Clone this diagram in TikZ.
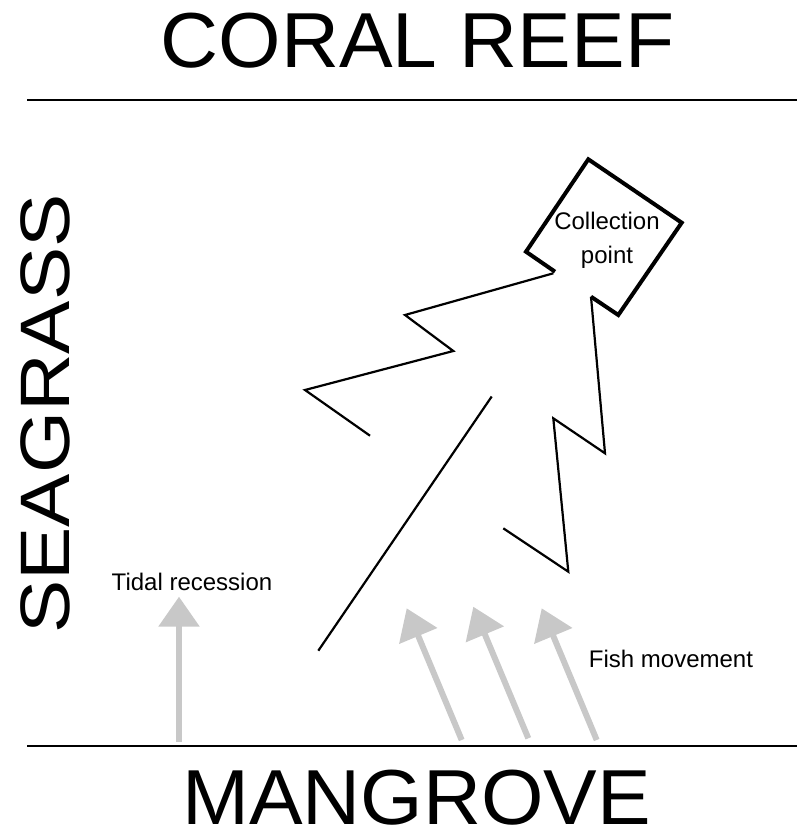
\documentclass[tikz,border=0pt]{standalone}
\usepackage{fontspec}
\usepackage{graphicx}
\setmainfont{Liberation Sans}
\usetikzlibrary{arrows.meta}
\definecolor{arrowgray}{RGB}{200,200,200}
\begin{document}
\begin{tikzpicture}[x=1pt,y=-1pt,
  bigtitle/.style={inner sep=0pt, anchor=base, font=\fontsize{78}{78}\selectfont},
  lbl/.style={inner sep=0pt, anchor=base, font=\fontsize{24}{24}\selectfont},
  thinline/.style={line width=2.2pt, line join=miter},
  boxline/.style={line width=4pt, line join=miter},
  rule/.style={line width=2.6pt},
  flow/.style={draw=arrowgray, line width=6pt, -{Triangle[length=30pt,width=40pt]}},
]
\useasboundingbox (0,0) rectangle (797,829);

% titles
\node[bigtitle] (coral) at (417.5,68) {\scalebox{1.03}[1]{CORAL REEF}};
\node[bigtitle] (mangrove) at (416.5,824) {\scalebox{1.03}[1]{MANGROVE}};
\node[inner sep=0pt, anchor=base, rotate=90, font=\fontsize{70}{70}\selectfont] (seagrass) at (69,414) {\scalebox{1.14}[1]{SEAGRASS}};

% rules
\coordinate (r1a) at (27,100); \coordinate (r1b) at (797,100);
\coordinate (r2a) at (27,746); \coordinate (r2b) at (797,746);
\draw[rule] (r1a) -- (r1b);
\draw[rule] (r2a) -- (r2b);

% collection point box
\coordinate (b1) at (555,271.7);
\coordinate (b2) at (526,251.7);
\coordinate (b3) at (588.3,159.3);
\coordinate (b4) at (681.7,222.7);
\coordinate (b5) at (618.3,315);
\coordinate (b6) at (591,296.7);
\draw[boxline] (b1) -- (b2) -- (b3) -- (b4) -- (b5) -- (b6);
\node[lbl] (cp1) at (607,229) {Collection};
\node[lbl] (cp2) at (607,263) {point};

% left zigzag
\coordinate (l1) at (553.3,273.3);
\coordinate (l2) at (405,315);
\coordinate (l3) at (453.3,351);
\coordinate (l4) at (305,390);
\coordinate (l5) at (370,435.7);
\draw[thinline] (l1) -- (l2) -- (l3) -- (l4) -- (l5);

% middle line
\coordinate (m1) at (491.7,396.5);
\coordinate (m2) at (318.3,650.7);
\draw[thinline] (m1) -- (m2);

% right zigzag
\coordinate (q1) at (591,296.7);
\coordinate (q2) at (605,453.3);
\coordinate (q3) at (553.3,418.3);
\coordinate (q4) at (568.3,571.7);
\coordinate (q5) at (503.3,528.3);
\draw[thinline] (q1) -- (q2) -- (q3) -- (q4) -- (q5);

% arrows
\coordinate (t0) at (179,741.7); \coordinate (t1) at (179,596.7);
\draw[flow] (t0) -- (t1);
\coordinate (a0) at (461.7,740); \coordinate (a1) at (406.7,608.3);
\coordinate (c0) at (528.3,738.3); \coordinate (c1) at (473.3,606.7);
\coordinate (d0) at (596.7,740); \coordinate (d1) at (541.7,608.3);
\draw[flow] (a0) -- (a1);
\draw[flow] (c0) -- (c1);
\draw[flow] (d0) -- (d1);

% labels
\node[lbl] (tidal) at (192,590) {Tidal recession};
\node[lbl] (fish) at (671,667) {Fish movement};
\end{tikzpicture}
\end{document}
